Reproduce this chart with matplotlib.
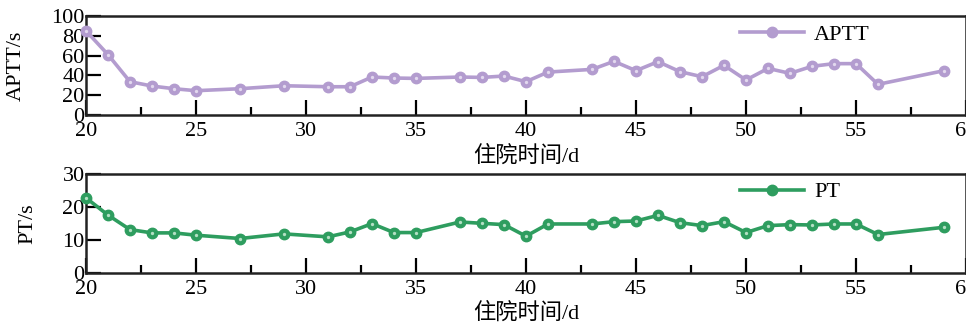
import matplotlib.pyplot as plt
import numpy as np

plt.rcParams['font.family'] = ['Liberation Serif', 'Noto Sans CJK SC']
plt.rcParams['font.size'] = 16

days = [20, 21, 22, 23, 24, 25, 27, 29, 31, 32, 33, 34, 35, 37, 38, 39, 40,
        41, 43, 44, 45, 46, 47, 48, 49, 50, 51, 52, 53, 54, 55, 56, 59]
aptt = [85, 61, 33.7, 29.3, 26.6, 24.6, 26.6, 29.6, 28.6, 28.6, 38.4, 37.4, 37,
        38.4, 38, 39.4, 33.7, 43.4, 46.1, 54.2, 44.8, 53.9, 43.8, 38.7, 50.2,
        35.4, 47.1, 42.1, 49.2, 51.9, 51.9, 31, 44.8]
pt = [22.7, 17.5, 13.1, 12.1, 12.1, 11.4, 10.4, 11.8, 10.9, 12.4, 14.9, 12.2,
      12.2, 15.4, 15.0, 14.6, 11.1, 14.8, 14.8, 15.5, 15.7, 17.4, 15.2, 14.3,
      15.5, 12.2, 14.3, 14.6, 14.5, 14.8, 14.8, 11.6, 13.8]

xlabel = '住院时间/d'
xticks = [20, 25, 30, 35, 40, 45, 50, 55, 60]

fig = plt.figure(figsize=(9.66, 3.26), dpi=100)
ax1 = fig.add_axes([0.089, 0.647, 0.911, 0.304])
ax2 = fig.add_axes([0.089, 0.163, 0.911, 0.304])

panels = [
    (ax1, aptt, '#b39ccf', '#e2d8ee', 'APTT', 'APTT/s', [0, 100],
     [0, 20, 40, 60, 80, 100]),
    (ax2, pt, '#2e9d5f', '#b4e0c4', 'PT', 'PT/s', [0, 30], [0, 10, 20, 30]),
]

for ax, vals, color, light, name, ylab, ylim, yticks in panels:
    ax.plot(days, vals, '-o', color=color, lw=2.6, ms=7.5, mec=color,
            mfc=color, label=name, clip_on=False, zorder=3)
    # small highlight on each marker
    ax.plot(days, vals, 'o', color=light, ms=2.4, mew=0,
            clip_on=False, zorder=4)
    ax.set_xlim(20, 60)
    ax.set_ylim(*ylim)
    ax.set_xticks(xticks)
    ax.set_xticks(np.arange(22.5, 60, 5), minor=True)
    ax.set_yticks(yticks)
    ax.tick_params(which='major', direction='in', length=11, width=1.6,
                   pad=5, labelsize=16)
    ax.tick_params(which='minor', direction='in', length=6, width=1.6)
    ax.tick_params(axis='y', pad=1)
    for s in ax.spines.values():
        s.set_linewidth(1.8)
        s.set_color('#222222')
    ax.set_xlabel(xlabel, fontsize=16, labelpad=3)
    ax.set_ylabel(ylab, fontsize=16, labelpad=18)
    ax.legend(loc='upper left', bbox_to_anchor=(0.72, 1.12), frameon=False,
              fontsize=16, handlelength=2.9, handletextpad=0.45)

fig.savefig('out.png', dpi=100)
